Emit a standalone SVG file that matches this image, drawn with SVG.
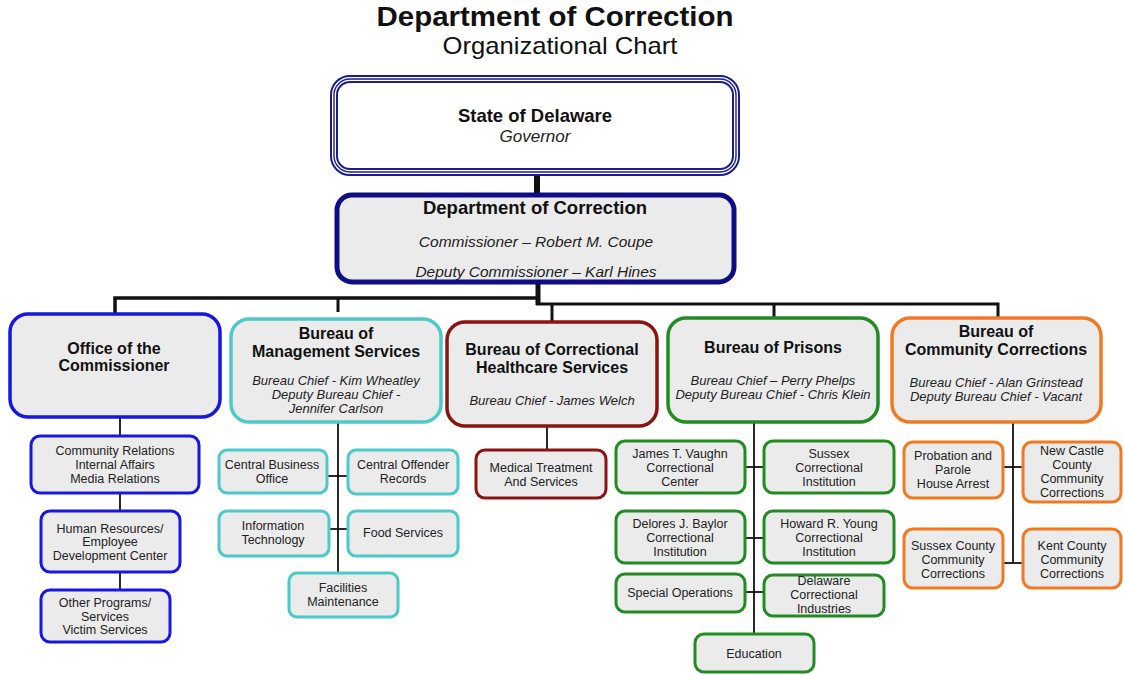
<svg xmlns="http://www.w3.org/2000/svg" width="1124" height="675" viewBox="0 0 1124 675">
<style>
text{font-family:"Liberation Sans",Arial,sans-serif;fill:#111;text-anchor:middle}
.t{font-size:28px;font-weight:bold}
.st{font-size:24px}
.h{font-size:16px;font-weight:bold}
.hb{font-size:18.5px;font-weight:bold}
.i{font-size:13px;font-style:italic;fill:#222}
.ib{font-size:15.5px;font-style:italic;fill:#222}
.s{font-size:12.5px;fill:#222}
.box{fill:#ebebeb}
.navy{stroke:#0e0e82;stroke-width:5}
.blue{stroke:#1717e0;stroke-width:3.5}
.teal{stroke:#4cc9c9;stroke-width:3.5}
.red{stroke:#8a1414;stroke-width:3.5}
.green{stroke:#228b22;stroke-width:3.5}
.orange{stroke:#f07a22;stroke-width:3.5}
.sm{stroke-width:3}
.c{stroke:#111;fill:none}
</style>
<g id="title">
<text class="t" x="555" y="26" textLength="357" lengthAdjust="spacingAndGlyphs">Department of Correction</text>
<text class="st" x="560" y="54" textLength="235" lengthAdjust="spacingAndGlyphs">Organizational Chart</text>
</g>
<g id="connectors">
<line class="c" x1="537" y1="171" x2="537" y2="196" stroke-width="6"/>
<line class="c" x1="538" y1="282" x2="538" y2="305" stroke-width="5"/>
<polyline class="c" points="115,313 115,298 538,298" stroke-width="3.5"/>
<line class="c" x1="338" y1="298" x2="338" y2="312" stroke-width="3"/>
<polyline class="c" points="536,304 998,304 998,318" stroke-width="3"/>
<line class="c" x1="552" y1="304" x2="552" y2="321" stroke-width="3"/>
<line class="c" x1="774" y1="304" x2="774" y2="318" stroke-width="3"/>
<g stroke-width="1.8">
<line class="c" x1="120" y1="418" x2="120" y2="436"/>
<line class="c" x1="120" y1="494" x2="120" y2="510"/>
<line class="c" x1="120" y1="573" x2="120" y2="590"/>
<line class="c" x1="338" y1="423" x2="338" y2="572"/>
<line class="c" x1="327" y1="476" x2="347" y2="476"/>
<line class="c" x1="329" y1="529" x2="347" y2="529"/>
<line class="c" x1="547" y1="427" x2="547" y2="449"/>
<line class="c" x1="754" y1="423" x2="754" y2="633"/>
<line class="c" x1="745" y1="467" x2="763" y2="467"/>
<line class="c" x1="745" y1="538" x2="763" y2="538"/>
<line class="c" x1="746" y1="592" x2="763" y2="592"/>
<line class="c" x1="1013" y1="423" x2="1013" y2="563"/>
<line class="c" x1="1003" y1="467" x2="1022" y2="467"/>
<line class="c" x1="1003" y1="563" x2="1022" y2="563"/>
</g>
</g>
<g id="governor">
<rect x="334" y="79" width="402" height="93" rx="16" fill="#fff" stroke="#1c1c8c" stroke-width="8"/>
<rect x="334" y="79" width="402" height="93" rx="16" fill="none" stroke="#fff" stroke-width="4"/>
<rect x="334" y="79" width="402" height="93" rx="16" fill="none" stroke="#1c1c8c" stroke-width="1.4"/>
<text class="hb" x="535" y="122">State of Delaware</text>
<text class="ib" x="535" y="142" style="font-size:17px">Governor</text>
</g>
<g id="doc">
<rect class="box navy" x="337" y="195" width="397" height="87" rx="15"/>
<text class="hb" x="535" y="214">Department of Correction</text>
<text class="ib" x="536" y="247">Commissioner – Robert M. Coupe</text>
<text class="ib" x="536" y="277">Deputy Commissioner – Karl Hines</text>
</g>
<g id="office">
<rect class="box blue" x="10" y="314" width="210" height="103" rx="18"/>
<text class="h" x="114" y="354">Office of the</text>
<text class="h" x="114" y="371">Commissioner</text>
</g>
<g id="community-relations">
<rect class="box blue sm" x="31" y="436" width="168" height="57" rx="9"/>
<text class="s" x="115" y="455">Community Relations</text>
<text class="s" x="115" y="469">Internal Affairs</text>
<text class="s" x="115" y="483">Media Relations</text>
</g>
<g id="human-resources">
<rect class="box blue sm" x="41" y="511" width="139" height="61" rx="9"/>
<text class="s" x="110" y="533">Human Resources/</text>
<text class="s" x="110" y="546">Employee</text>
<text class="s" x="110" y="560">Development Center</text>
</g>
<g id="other-programs">
<rect class="box blue sm" x="41" y="590" width="129" height="52" rx="9"/>
<text class="s" x="105" y="607">Other Programs/</text>
<text class="s" x="105" y="621">Services</text>
<text class="s" x="105" y="634">Victim Services</text>
</g>
<g id="management">
<rect class="box teal" x="231" y="319" width="210" height="103" rx="18"/>
<text class="h" x="336" y="339">Bureau of</text>
<text class="h" x="336" y="357">Management Services</text>
<text class="i" x="336" y="385">Bureau Chief - Kim Wheatley</text>
<text class="i" x="336" y="399">Deputy Bureau Chief -</text>
<text class="i" x="336" y="413">Jennifer Carlson</text>
</g>
<g id="central-business">
<rect class="box teal sm" x="219" y="450" width="108" height="43" rx="8"/>
<text class="s" x="272" y="469">Central Business</text>
<text class="s" x="272" y="483">Office</text>
</g>
<g id="central-offender">
<rect class="box teal sm" x="348" y="450" width="110" height="44" rx="8"/>
<text class="s" x="403" y="469">Central Offender</text>
<text class="s" x="403" y="483">Records</text>
</g>
<g id="information-technology">
<rect class="box teal sm" x="219" y="511" width="110" height="45" rx="8"/>
<text class="s" x="273" y="530">Information</text>
<text class="s" x="273" y="544">Technology</text>
</g>
<g id="food-services">
<rect class="box teal sm" x="348" y="511" width="110" height="45" rx="8"/>
<text class="s" x="403" y="537">Food Services</text>
</g>
<g id="facilities">
<rect class="box teal sm" x="289" y="573" width="109" height="44" rx="8"/>
<text class="s" x="343" y="592">Facilities</text>
<text class="s" x="343" y="606">Maintenance</text>
</g>
<g id="healthcare">
<rect class="box red" x="447" y="322" width="210" height="104" rx="18"/>
<text class="h" x="552" y="355">Bureau of Correctional</text>
<text class="h" x="552" y="373">Healthcare Services</text>
<text class="i" x="552" y="405">Bureau Chief - James Welch</text>
</g>
<g id="medical">
<rect class="box red sm" x="476" y="450" width="130" height="48" rx="9"/>
<text class="s" x="541" y="472">Medical Treatment</text>
<text class="s" x="541" y="486">And Services</text>
</g>
<g id="prisons">
<rect class="box green" x="668" y="318" width="210" height="104" rx="18"/>
<text class="h" x="773" y="353">Bureau of Prisons</text>
<text class="i" x="773" y="385">Bureau Chief – Perry Phelps</text>
<text class="i" x="773" y="399">Deputy Bureau Chief - Chris Klein</text>
</g>
<g id="vaughn">
<rect class="box green sm" x="616" y="441" width="129" height="52" rx="9"/>
<text class="s" x="680" y="458">James T. Vaughn</text>
<text class="s" x="680" y="472">Correctional</text>
<text class="s" x="680" y="486">Center</text>
</g>
<g id="sussex-ci">
<rect class="box green sm" x="764" y="441" width="130" height="52" rx="9"/>
<text class="s" x="829" y="458">Sussex</text>
<text class="s" x="829" y="472">Correctional</text>
<text class="s" x="829" y="486">Institution</text>
</g>
<g id="baylor">
<rect class="box green sm" x="616" y="511" width="129" height="52" rx="9"/>
<text class="s" x="680" y="528">Delores J. Baylor</text>
<text class="s" x="680" y="542">Correctional</text>
<text class="s" x="680" y="556">Institution</text>
</g>
<g id="young">
<rect class="box green sm" x="764" y="511" width="130" height="52" rx="9"/>
<text class="s" x="829" y="528">Howard R. Young</text>
<text class="s" x="829" y="542">Correctional</text>
<text class="s" x="829" y="556">Institution</text>
</g>
<g id="special-operations">
<rect class="box green sm" x="616" y="574" width="129" height="38" rx="9"/>
<text class="s" x="680" y="597">Special Operations</text>
</g>
<g id="industries">
<rect class="box green sm" x="764" y="575" width="120" height="41" rx="9"/>
<text class="s" x="824" y="585">Delaware</text>
<text class="s" x="824" y="599">Correctional</text>
<text class="s" x="824" y="613">Industries</text>
</g>
<g id="education">
<rect class="box green sm" x="695" y="634" width="119" height="38" rx="9"/>
<text class="s" x="754" y="658">Education</text>
</g>
<g id="community-corrections">
<rect class="box orange" x="892" y="318" width="209" height="104" rx="18"/>
<text class="h" x="996" y="337">Bureau of</text>
<text class="h" x="996" y="355">Community Corrections</text>
<text class="i" x="996" y="387">Bureau Chief - Alan Grinstead</text>
<text class="i" x="996" y="401">Deputy Bureau Chief - Vacant</text>
</g>
<g id="probation">
<rect class="box orange sm" x="904" y="442" width="99" height="56" rx="9"/>
<text class="s" x="953" y="460">Probation and</text>
<text class="s" x="953" y="474">Parole</text>
<text class="s" x="953" y="488">House Arrest</text>
</g>
<g id="new-castle">
<rect class="box orange sm" x="1023" y="442" width="98" height="60" rx="9"/>
<text class="s" x="1072" y="455">New Castle</text>
<text class="s" x="1072" y="469">County</text>
<text class="s" x="1072" y="483">Community</text>
<text class="s" x="1072" y="497">Corrections</text>
</g>
<g id="sussex-county">
<rect class="box orange sm" x="904" y="529" width="99" height="59" rx="9"/>
<text class="s" x="953" y="550">Sussex County</text>
<text class="s" x="953" y="564">Community</text>
<text class="s" x="953" y="578">Corrections</text>
</g>
<g id="kent-county">
<rect class="box orange sm" x="1023" y="529" width="98" height="59" rx="9"/>
<text class="s" x="1072" y="550">Kent County</text>
<text class="s" x="1072" y="564">Community</text>
<text class="s" x="1072" y="578">Corrections</text>
</g>
</svg>
